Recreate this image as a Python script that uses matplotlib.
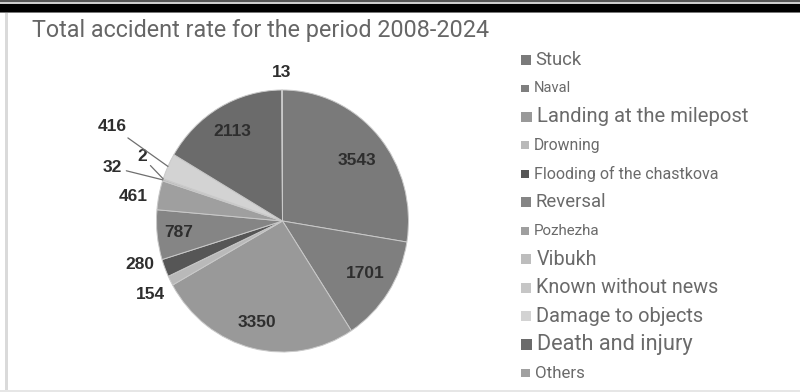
import numpy as np
import matplotlib
matplotlib.use("Agg")
import matplotlib.pyplot as plt
from matplotlib.patches import Rectangle

plt.rcdefaults()

title = "Total accident rate for the period 2008-2024"
categories = ["Stuck", "Naval", "Landing at the milepost", "Drowning",
              "Flooding of the chastkova", "Reversal", "Pozhezha", "Vibukh",
              "Known without news", "Damage to objects", "Death and injury", "Others"]
values = [3543, 1701, 3350, 154, 280, 787, 461, 32, 2, 416, 2113, 13]

colors = ["#7a7a7a", "#7f7f7f", "#999999", "#b9b9b9", "#565656", "#858585",
          "#9f9f9f", "#bdbdbd", "#c6c6c6", "#d3d3d3", "#6b6b6b", "#a0a0a0"]
# legend text sizes differ from row to row in the original
legend_sizes = [13.2, 10.5, 14.6, 11.3, 11.5, 13.3, 10.9, 14.2, 14.2, 14.4, 15.7, 12.2]

# label radius (1 = pie edge), angle shift in degrees, leader line flag
label_r = [0.75, 0.77, 0.80, 1.19, 1.18, 0.83, 1.20, 1.41, 1.22, 1.53, 0.79, 1.13]
label_shift = [-2, 2, -1, 1, -4.5, 0, 2.6, 1.4, -5, -3.4, 0, 0]
leader = [False, False, False, False, False, False, False, True, True, True, False, False]

W, H = 800, 392
fig = plt.figure(figsize=(W / 100, H / 100), dpi=100)
fig.patch.set_facecolor("white")


def fx(px):
    return px / W


def fy(py):
    return 1 - py / H


# frame of the screenshot
fig.add_artist(Rectangle((0, fy(2)), 1, 2 / H, transform=fig.transFigure, color="#555555", lw=0))
fig.add_artist(Rectangle((0, fy(4)), 1, 2 / H, transform=fig.transFigure, color="#cccccc", lw=0))
fig.add_artist(Rectangle((0, fy(11.5)), 1, 7.5 / H, transform=fig.transFigure, color="#000000", lw=0))
fig.add_artist(Rectangle((0, fy(12.5)), 1, 1 / H, transform=fig.transFigure, color="#777777", lw=0))
fig.add_artist(Rectangle((fx(5), 0), 3 / W, fy(12.5), transform=fig.transFigure, color="#dadada", lw=0))
fig.add_artist(Rectangle((0, 0), 1, 2 / H, transform=fig.transFigure, color="#e6e6e6", lw=0))

fig.text(fx(32), fy(31), title, fontsize=16.8, family="Roboto", color="#666666",
         ha="left", va="center")

cx, cy, rx, ry = 282.5, 221, 126, 131
ax = fig.add_axes([fx(cx - rx), fy(cy + ry), 2 * rx / W, 2 * ry / H])
wedges, _ = ax.pie(values, colors=colors, startangle=90, counterclock=False,
                   wedgeprops=dict(edgecolor="#c9c9c9", linewidth=0.7))
ax.set_aspect("auto")
ax.set_xlim(-1, 1)
ax.set_ylim(-1, 1)
ax.axis("off")

for i, w in enumerate(wedges):
    mid = np.deg2rad((w.theta1 + w.theta2) / 2)
    ang = mid + np.deg2rad(label_shift[i])
    tx, ty = label_r[i] * np.cos(ang), label_r[i] * np.sin(ang)
    kw = dict(fontsize=12.5, fontweight="bold", family="Liberation Sans",
              color="#2e2e2e", ha="center", va="center")
    if leader[i]:
        ax.annotate(str(values[i]), xy=(np.cos(mid), np.sin(mid)), xytext=(tx, ty),
                    arrowprops=dict(arrowstyle="-", color="#6f6f6f", lw=0.9,
                                    shrinkA=1, shrinkB=0),
                    annotation_clip=False, **kw)
    else:
        ax.text(tx, ty, str(values[i]), clip_on=False, **kw)

# hand-made legend
rows = np.linspace(60, 373, len(categories))
for name, c, s, y in zip(categories, colors, legend_sizes, rows):
    side = s * 0.72
    fig.add_artist(Rectangle((fx(521), fy(y + side / 2)), side / W, side / H,
                             transform=fig.transFigure, color=c, lw=0))
    fig.text(fx(521 + side + 5), fy(y), name, fontsize=s, family="Roboto",
             color="#6a6a6a", ha="left", va="center")

fig.savefig("out.png", dpi=100, facecolor="white")
